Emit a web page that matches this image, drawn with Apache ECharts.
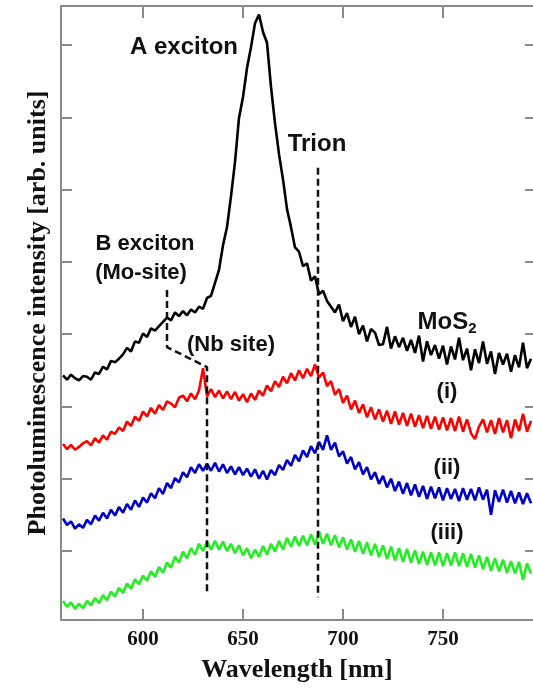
<!DOCTYPE html>
<html>
<head>
<meta charset="utf-8">
<script src="https://cdn.jsdelivr.net/npm/echarts@6/dist/echarts.min.js"></script>
<style>
html, body { margin: 0; padding: 0; background: #fff; }
#main { width: 533px; height: 694px; }
</style>
</head>
<body>
<div id="main"></div>
<script>
// wavelength grid of the spectra (nm)
var wlStart = 560, wlStep = 2;

// PL spectra, offset for display (arb. units)
var mos2 = [3.43, 3.37, 3.44, 3.39, 3.36, 3.42, 3.41, 3.37, 3.47, 3.45,
    3.55, 3.51, 3.63, 3.61, 3.66, 3.72, 3.81, 3.76, 3.90, 3.88,
    4.01, 3.96, 4.08, 4.05, 4.11, 4.17, 4.23, 4.19, 4.30, 4.25,
    4.32, 4.26, 4.34, 4.30, 4.38, 4.35, 4.50, 4.53, 4.71, 4.89,
    5.23, 5.48, 5.91, 6.38, 6.99, 7.28, 7.68, 7.97, 8.30, 8.42,
    8.18, 8.03, 7.42, 6.92, 6.49, 6.14, 5.73, 5.48, 5.20, 5.14,
    4.94, 4.98, 4.74, 4.80, 4.55, 4.60, 4.46, 4.38, 4.30, 4.41,
    4.18, 4.29, 4.10, 4.24, 4.00, 4.12, 3.90, 4.07, 4.02, 3.85,
    3.86, 4.10, 3.80, 3.97, 3.82, 3.95, 3.77, 3.92, 3.74, 3.98,
    3.62, 3.90, 3.71, 3.85, 3.66, 3.84, 3.58, 3.83, 3.65, 3.95,
    3.64, 3.80, 3.50, 3.79, 3.60, 3.90, 3.59, 3.76, 3.45, 3.74,
    3.58, 3.73, 3.48, 3.71, 3.54, 3.88, 3.53, 3.66];

var sampleI = [2.48, 2.41, 2.47, 2.40, 2.44, 2.49, 2.52, 2.46, 2.56, 2.50,
    2.60, 2.54, 2.65, 2.62, 2.71, 2.66, 2.79, 2.73, 2.86, 2.80,
    2.93, 2.86, 2.98, 2.90, 3.02, 2.95, 3.07, 3.04, 2.99, 3.12,
    3.15, 3.07, 3.18, 3.10, 3.22, 3.53, 3.14, 3.24, 3.13, 3.22,
    3.11, 3.21, 3.10, 3.20, 3.08, 3.17, 3.06, 3.18, 3.09, 3.22,
    3.15, 3.29, 3.21, 3.35, 3.27, 3.41, 3.32, 3.46, 3.36, 3.50,
    3.39, 3.52, 3.42, 3.58, 3.40, 3.47, 3.28, 3.35, 3.16, 3.24,
    3.05, 3.15, 2.96, 3.08, 2.91, 3.03, 2.85, 2.99, 2.82, 2.96,
    2.79, 2.94, 2.76, 2.93, 2.75, 2.91, 2.73, 2.90, 2.72, 2.88,
    2.70, 2.87, 2.69, 2.86, 2.68, 2.85, 2.67, 2.84, 2.66, 2.86,
    2.65, 2.82, 2.63, 2.55, 2.72, 2.82, 2.64, 2.81, 2.62, 2.84,
    2.64, 2.81, 2.56, 2.82, 2.66, 2.90, 2.65, 2.80];

var sampleII = [1.45, 1.36, 1.41, 1.31, 1.37, 1.32, 1.43, 1.37, 1.49, 1.42,
    1.53, 1.45, 1.57, 1.49, 1.61, 1.53, 1.65, 1.57, 1.70, 1.61,
    1.74, 1.67, 1.80, 1.73, 1.87, 1.79, 1.94, 1.87, 2.01, 1.95,
    2.09, 2.02, 2.16, 2.08, 2.20, 2.11, 2.21, 2.11, 2.22, 2.10,
    2.20, 2.08, 2.17, 2.06, 2.16, 2.05, 2.14, 2.03, 2.13, 2.00,
    2.11, 1.99, 2.12, 2.05, 2.19, 2.12, 2.26, 2.18, 2.33, 2.24,
    2.39, 2.30, 2.45, 2.35, 2.51, 2.40, 2.60, 2.40, 2.50, 2.31,
    2.38, 2.21, 2.30, 2.13, 2.23, 2.06, 2.16, 1.99, 2.09, 1.93,
    2.04, 1.88, 2.00, 1.83, 1.96, 1.79, 1.94, 1.77, 1.92, 1.75,
    1.90, 1.72, 1.89, 1.73, 1.88, 1.70, 1.87, 1.72, 1.86, 1.69,
    1.87, 1.71, 1.86, 1.70, 1.88, 1.71, 1.85, 1.50, 1.84, 1.68,
    1.85, 1.67, 1.83, 1.66, 1.81, 1.65, 1.80, 1.66];

var sampleIII = [0.31, 0.23, 0.29, 0.20, 0.27, 0.21, 0.31, 0.25, 0.35, 0.28,
    0.39, 0.32, 0.44, 0.37, 0.49, 0.42, 0.55, 0.48, 0.61, 0.54,
    0.66, 0.59, 0.72, 0.64, 0.78, 0.70, 0.84, 0.77, 0.92, 0.84,
    0.99, 0.90, 1.04, 0.95, 1.10, 1.00, 1.13, 1.02, 1.14, 1.02,
    1.13, 1.00, 1.10, 0.97, 1.08, 0.94, 1.04, 0.90, 1.02, 0.92,
    1.07, 0.95, 1.10, 0.99, 1.14, 1.02, 1.18, 1.06, 1.20, 1.07,
    1.21, 1.08, 1.23, 1.09, 1.27, 1.10, 1.24, 1.08, 1.22, 1.05,
    1.19, 1.02, 1.16, 0.99, 1.14, 0.96, 1.12, 0.94, 1.10, 0.92,
    1.08, 0.89, 1.06, 0.87, 1.04, 0.85, 1.03, 0.84, 1.01, 0.82,
    0.99, 0.81, 0.98, 0.80, 0.98, 0.79, 0.97, 0.80, 0.98, 0.79,
    0.97, 0.78, 0.96, 0.77, 0.94, 0.75, 0.92, 0.73, 0.90, 0.72,
    0.88, 0.70, 0.86, 0.69, 0.85, 0.60, 0.83, 0.69];

var xTicks = [600, 650, 700, 750];
var yTicks = [1, 2, 3, 4, 5, 6, 7, 8];

// dashed guide lines [nm, intensity]
var trionLine = [[687.5, 6.30], [687.5, 0.36]];
var nbLine = [[612, 4.61], [612, 3.82], [632, 3.545], [632, 0.42]];

function toPairs(arr) {
    return arr.map(function (v, i) { return [wlStart + i * wlStep, v]; });
}

var axisGray = '#8a8a8a';
var serif = '"Liberation Serif", "Times New Roman", serif';
var sans = '"Liberation Sans", Arial, sans-serif';

function spectrum(name, data, color) {
    return {
        name: name, type: 'line', data: toPairs(data),
        showSymbol: false, symbol: 'none',
        lineStyle: { color: color, width: 2.6 },
        z: 2
    };
}
function guide(data) {
    return {
        type: 'line', data: data, showSymbol: false, symbol: 'none',
        lineStyle: { color: '#111', width: 2.5, type: [7, 4] },
        z: 5
    };
}
function label(text, x, y, size) {
    return {
        type: 'text', x: x, y: y, z: 10,
        style: {
            text: text, fill: '#111',
            font: 'bold ' + size + 'px ' + sans,
            align: 'center', verticalAlign: 'middle'
        }
    };
}

var myChart = echarts.init(document.getElementById('main'));
var option = {
    animation: false,
    backgroundColor: '#fff',
    grid: { left: 61, right: 0, top: 6, bottom: 74 },
    xAxis: [{
        type: 'value', position: 'bottom', min: 559, max: 795,
        name: 'Wavelength [nm]', nameLocation: 'middle', nameGap: 37,
        nameTextStyle: { fontFamily: serif, fontWeight: 'bold', fontSize: 26, color: '#111' },
        axisLine: { lineStyle: { color: axisGray, width: 2 } },
        axisTick: { inside: true, length: 11, customValues: xTicks, lineStyle: { color: axisGray, width: 2 } },
        axisLabel: { customValues: xTicks, margin: 9, fontFamily: serif, fontWeight: 'bold', fontSize: 21, color: '#111' },
        splitLine: { show: false }
    }, {
        type: 'value', position: 'top', min: 559, max: 795,
        axisLine: { lineStyle: { color: axisGray, width: 2 } },
        axisTick: { inside: true, length: 12, customValues: xTicks, lineStyle: { color: axisGray, width: 2 } },
        axisLabel: { show: false },
        splitLine: { show: false }
    }],
    yAxis: [{
        type: 'value', position: 'left', min: 0.046, max: 8.539,
        name: 'Photoluminescence intensity [arb. units]', nameLocation: 'middle', nameGap: 10,
        nameTextStyle: { fontFamily: serif, fontWeight: 'bold', fontSize: 26, color: '#111' },
        axisLine: { show: true, lineStyle: { color: axisGray, width: 2 } },
        axisTick: { show: true, inside: true, length: 11, customValues: yTicks, lineStyle: { color: axisGray, width: 2 } },
        axisLabel: { show: false },
        splitLine: { show: false }
    }, {
        type: 'value', position: 'right', min: 0.046, max: 8.539,
        axisLine: { show: false },
        axisTick: { show: true, inside: true, length: 8, customValues: yTicks, lineStyle: { color: axisGray, width: 2 } },
        axisLabel: { show: false },
        splitLine: { show: false }
    }],
    series: [
        spectrum('(iii)', sampleIII, '#22ee22'),
        spectrum('(ii)', sampleII, '#0000c8'),
        spectrum('(i)', sampleI, '#ff0000'),
        spectrum('MoS2', mos2, '#000000'),
        guide(trionLine),
        guide(nbLine)
    ],
    graphic: [
        label('A exciton', 184, 47, 24),
        label('Trion', 317, 144, 24),
        label('B exciton', 145, 244, 22),
        label('(Mo-site)', 141, 273, 22),
        label('(Nb site)', 231, 345, 22),
        {
            type: 'text', x: 447, y: 322, z: 10,
            style: {
                text: '{m|MoS}{s|2}', fill: '#111', align: 'center', verticalAlign: 'middle',
                rich: {
                    m: { fontFamily: sans, fontWeight: 'bold', fontSize: 24, fill: '#111', lineHeight: 28 },
                    s: { fontFamily: sans, fontWeight: 'bold', fontSize: 15, fill: '#111', lineHeight: 28, verticalAlign: 'bottom' }
                }
            }
        },
        label('(i)', 447, 392, 22),
        label('(ii)', 447, 468, 22),
        label('(iii)', 447, 533, 22)
    ]
};
myChart.setOption(option);
</script>
</body>
</html>
